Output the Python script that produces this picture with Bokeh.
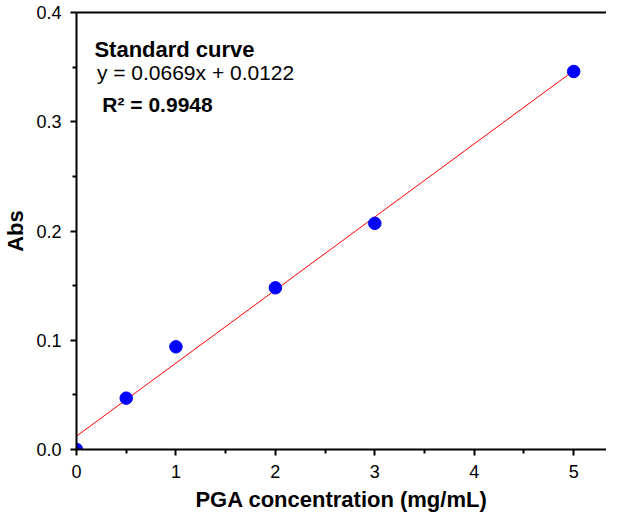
from bokeh.plotting import figure
from bokeh.models import LinearAxis, Range1d, Label, FixedTicker, PrintfTickFormatter
from bokeh.embed import file_html
from bokeh.resources import INLINE

# data
conc = [0, 0.5, 1, 2, 3, 5]
absorb = [0.0, 0.047, 0.094, 0.148, 0.207, 0.346]
slope = 0.0669
intercept = 0.0122
fit_x = [0, 5]
fit_y = [intercept + slope * v for v in fit_x]
x_ticks = [0, 1, 2, 3, 4, 5]
x_minor = [0.5, 1.5, 2.5, 3.5, 4.5]
y_ticks = [0.0, 0.1, 0.2, 0.3, 0.4]
y_minor = [0.05, 0.15, 0.25, 0.35]
title_text = "Standard curve"
eq_text = "y = 0.0669x + 0.0122"
r2_text = "R\u00b2 = 0.9948"

FONT = "Liberation Sans"

p = figure(width=606, height=514, output_backend="svg", toolbar_location=None,
           x_range=Range1d(0, 5.33), y_range=Range1d(0, 0.4),
           min_border_left=73, min_border_right=0, min_border_top=12, min_border_bottom=64)
p.outline_line_color = None
p.xgrid.visible = False
p.ygrid.visible = False
p.background_fill_color = "white"
p.border_fill_color = "white"

p.line(fit_x, fit_y, line_color="red", line_width=1)
p.scatter(conc, absorb, size=12.5, fill_color="#0000ff", line_color="#0000ff")

for ax in (p.xaxis[0], p.yaxis[0]):
    ax.axis_line_width = 2
    ax.axis_line_color = "black"
    ax.major_tick_line_color = "black"
    ax.minor_tick_line_color = "black"
    ax.major_tick_line_width = 2
    ax.minor_tick_line_width = 2
    ax.major_tick_out = 6
    ax.major_tick_in = 0
    ax.minor_tick_out = 4
    ax.minor_tick_in = 0
    ax.major_label_text_font = FONT
    ax.major_label_text_font_size = "18px"
    ax.major_label_text_color = "black"
    ax.axis_label_text_font = FONT
    ax.axis_label_text_font_size = "22px"
    ax.axis_label_text_font_style = "bold"
    ax.axis_label_text_color = "black"

p.xaxis[0].ticker = FixedTicker(ticks=x_ticks, minor_ticks=x_minor)
p.yaxis[0].ticker = FixedTicker(ticks=y_ticks, minor_ticks=y_minor)
p.yaxis[0].formatter = PrintfTickFormatter(format="%.1f")
p.xaxis[0].axis_label = "PGA concentration (mg/mL)"
p.yaxis[0].axis_label = "Abs"
p.xaxis[0].major_label_standoff = 9
p.xaxis[0].axis_label_standoff = 6
p.yaxis[0].major_label_standoff = 9
p.yaxis[0].axis_label_standoff = 5

top = LinearAxis(ticker=FixedTicker(ticks=[]), major_label_text_font_size="0px",
                 axis_line_width=2, axis_line_color="black",
                 major_tick_line_color=None, minor_tick_line_color=None)
p.add_layout(top, "above")

p.add_layout(Label(x=0.18, y=0.3664, text=title_text, text_font=FONT, text_font_size="22px",
                   text_font_style="bold", text_baseline="alphabetic", text_color="black"))
p.add_layout(Label(x=0.205, y=0.3447, text=eq_text, text_font=FONT, text_font_size="21px",
                   text_baseline="alphabetic", text_color="black"))
p.add_layout(Label(x=0.26, y=0.3156, text=r2_text, text_font=FONT, text_font_size="21px",
                   text_font_style="bold", text_baseline="alphabetic", text_color="black"))

open("out.html", "w").write(file_html(p, INLINE))
